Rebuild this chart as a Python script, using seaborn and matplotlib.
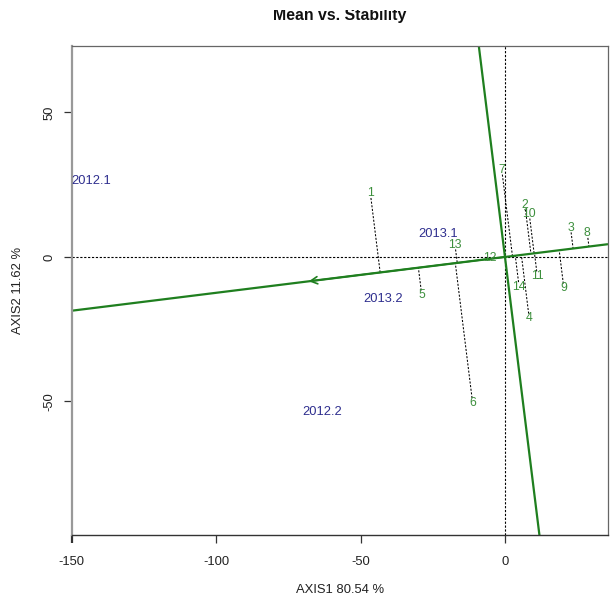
import numpy as np
import pandas as pd
import matplotlib
matplotlib.use("Agg")
import matplotlib.pyplot as plt
from matplotlib.patches import FancyArrowPatch, Rectangle
import seaborn as sns

# Genotype scores on the first two principal axes
genotypes = ["1", "2", "3", "4", "5", "6", "7", "8", "9", "10", "11", "12", "13", "14"]
gen_pc1 = [-46.6, 6.9, 22.7, 8.4, -28.8, -11.2, -1.1, 28.5, 20.4, 8.4, 11.2, -5.2, -17.3, 4.9]
gen_pc2 = [22.0, 18.0, 10.1, -21.2, -13.2, -50.4, 30.1, 8.2, -10.8, 14.9, -6.6, -0.4, 4.2, -10.3]

# Environment scores
environments = ["2012.1", "2012.2", "2013.1", "2013.2"]
env_pc1 = [-143.1, -63.4, -23.0, -42.3]
env_pc2 = [26.4, -53.6, 8.0, -14.5]

x_ticks = [-150, -100, -50, 0]
y_ticks = [-50, 0, 50]
x_label = "AXIS1 80.54 %"
y_label = "AXIS2 11.62 %"
title = "Mean vs. Stability"

sns.set_theme(style="white")
plt.rcParams["font.family"] = ["Liberation Sans", "DejaVu Sans"]
plt.rcParams["axes.unicode_minus"] = False

GREEN_LINE = "#1f7f1f"
GREEN_TEXT = "#3d8f3d"
BLUE_TEXT = "#2e2e8e"
DOTS = (0, (2, 1.5))

fig = plt.figure(figsize=(6.11, 6.00), dpi=100)
ax = fig.add_axes([71.7 / 611, (600 - 535) / 600, (607.5 - 71.7) / 611, (535 - 45.7) / 600])
ax.set_xlim(-150, 35.5)
ax.set_ylim(-96.2, 73.1)

# Average environment axis (through the mean environment) and its ordinate
gx = np.array(gen_pc1)
gy = np.array(gen_pc2)
mx, my = np.mean(env_pc1), np.mean(env_pc2)
u = np.array([mx, my]) / np.hypot(mx, my)

ax.axhline(0, color="black", lw=0.8, ls=DOTS, zorder=1)
ax.axvline(0, color="black", lw=0.8, ls=DOTS, zorder=1)

ax.axline((0, 0), slope=my / mx, color=GREEN_LINE, lw=1.6, zorder=2)
ax.axline((0, 0), slope=-mx / my, color=GREEN_LINE, lw=1.6, zorder=2)

arrow = FancyArrowPatch((0, 0), (mx, my), arrowstyle="->,head_length=5,head_width=2.6",
                        mutation_scale=1, lw=1.2, color=GREEN_LINE,
                        shrinkA=0, shrinkB=0, zorder=3)
ax.add_patch(arrow)

# Projections of each genotype onto the average environment axis;
# each segment starts at the edge of the genotype's label
proj = gx * u[0] + gy * u[1]
fx, fy = proj * u[0], proj * u[1]
half_h = 1.6
dy = fy - gy
frac = np.where(np.abs(dy) > half_h, half_h / np.maximum(np.abs(dy), 1e-9), 1.0)
sx = gx + (fx - gx) * frac
sy = gy + (fy - gy) * frac
seg = pd.DataFrame({
    "pc1": np.concatenate([sx, fx]),
    "pc2": np.concatenate([sy, fy]),
    "genotype": genotypes * 2,
    "order": [0] * len(genotypes) + [1] * len(genotypes),
}).sort_values(["genotype", "order"])
n_before = len(ax.get_lines())
sns.lineplot(data=seg, x="pc1", y="pc2", units="genotype", estimator=None, sort=False,
             color="black", lw=0.75, ax=ax, zorder=1.5, legend=False)
for line in ax.get_lines()[n_before:]:
    line.set_linestyle(DOTS)

for name, x, y in zip(genotypes, gen_pc1, gen_pc2):
    ax.text(x, y, name, color=GREEN_TEXT, fontsize=8.8, ha="center", va="center", zorder=4)
for name, x, y in zip(environments, env_pc1, env_pc2):
    ax.text(x, y, name, color=BLUE_TEXT, fontsize=9.3, ha="center", va="center", zorder=4)

ax.set_xticks(x_ticks)
ax.set_yticks(y_ticks)
ax.set_xticklabels([str(t) for t in x_ticks])
ax.set_yticklabels([str(t) for t in y_ticks])
ax.tick_params(axis="both", which="major", direction="out", length=5.8, width=0.9,
               color="#333333", labelsize=9.4, labelcolor="#222222", bottom=True, left=True)
ax.tick_params(axis="x", pad=9)
ax.tick_params(axis="y", pad=6)
for lab in ax.get_yticklabels():
    lab.set_rotation(90)
    lab.set_va("center")
    lab.set_ha("right")
ax.xaxis.get_major_ticks()[0].tick1line.set_color("#999999")
ax.xaxis.get_major_ticks()[0].tick1line.set_markeredgewidth(1.6)

ax.set_xlabel(x_label, fontsize=9.4, color="#222222")
ax.set_ylabel(y_label, fontsize=9.4, color="#222222")
ax.xaxis.set_label_coords(0.5, -0.1124)
ax.xaxis.label.set_va("center")
ax.yaxis.set_label_coords(-0.1002, 0.5)
ax.yaxis.label.set_va("center")

for side in ["top", "right"]:
    ax.spines[side].set_color("#666666")
    ax.spines[side].set_linewidth(0.9)
ax.spines["bottom"].set_color("#333333")
ax.spines["bottom"].set_linewidth(1.0)
ax.spines["left"].set_color("#999999")
ax.spines["left"].set_linewidth(1.6)
ax.grid(False)

fig.text(339.7 / 611, 1 - 20 / 600, title, ha="center", va="baseline",
         fontsize=11.4, fontweight="bold", color="#111111")
# the top margin of the page trims the upper part of the heading
fig.patches.append(Rectangle((0, 1 - 10 / 600), 1, 10 / 600, transform=fig.transFigure,
                             facecolor="white", edgecolor="none", zorder=10))

fig.savefig("out.png", dpi=100)
